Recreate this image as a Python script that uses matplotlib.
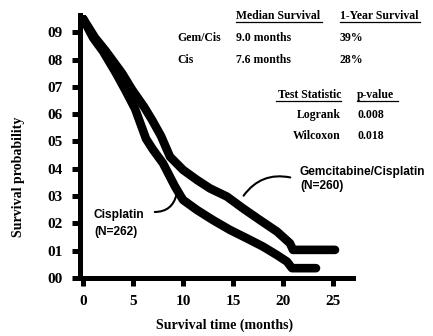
import numpy as np
import matplotlib
matplotlib.use("Agg")
import matplotlib.pyplot as plt

# survival curves (months, probability)
cis_t = [0, 1.0, 2.0, 3.3, 4.2, 5.2, 6.3, 7.0, 8.0, 9.2, 10.0, 11.4, 13.0,
         14.7, 16.4, 18.0, 19.4, 20.4, 20.9, 23.3]
cis_s = [0.95, 0.88, 0.83, 0.75, 0.69, 0.62, 0.51, 0.47, 0.42, 0.335, 0.286,
         0.249, 0.212, 0.176, 0.145, 0.115, 0.084, 0.06, 0.036, 0.036]

gem_t = [0, 1.2, 2.3, 3.9, 4.9, 6.1, 6.9, 7.8, 8.7, 10.0, 11.4, 12.7, 14.4,
         16.0, 17.7, 19.4, 20.7, 21.0, 25.2]
gem_s = [0.95, 0.88, 0.83, 0.75, 0.69, 0.627, 0.579, 0.52, 0.444, 0.396, 0.359,
         0.328, 0.298, 0.255, 0.212, 0.17, 0.127, 0.103, 0.103]

xticks = [0, 5, 10, 15, 20, 25]
yticks = [0, 0.1, 0.2, 0.3, 0.4, 0.5, 0.6, 0.7, 0.8, 0.9]
ytick_labels = ["00", "01", "02", "03", "04", "05", "06", "07", "08", "09"]

groups = ["Gem/Cis", "Cis"]
median_surv = ["9.0 months", "7.6 months"]
one_year = ["39%", "28%"]
tests = ["Logrank", "Wilcoxon"]
pvals = ["0.008", "0.018"]

W, H = 433, 336
fig = plt.figure(figsize=(W / 100, H / 100), dpi=100)
ax = fig.add_axes([80 / W, 1 - 278 / H, 273 / W, 263 / H])

serif = "Liberation Serif"
sans = "Liberation Sans"

ax.plot(cis_t, cis_s, color="black", lw=6.2, solid_capstyle="round",
        solid_joinstyle="round")
ax.plot(gem_t, gem_s, color="black", lw=6.2, solid_capstyle="round",
        solid_joinstyle="round")

ax.set_xlim(-0.3, 27.0)
ax.set_ylim(0, 0.963)
ax.set_xticks(xticks)
ax.set_xticklabels([str(x) for x in xticks])
ax.set_yticks(yticks)
ax.set_yticklabels(ytick_labels)
ax.tick_params(direction="out", length=6, width=3.6, pad=6.5)
for lab in ax.get_xticklabels() + ax.get_yticklabels():
    lab.set_fontfamily(serif)
    lab.set_fontweight("bold")
    lab.set_fontsize(11)

for s in ["top", "right"]:
    ax.spines[s].set_visible(False)
for s in ["left", "bottom"]:
    ax.spines[s].set_linewidth(3.6)

ax.set_xlabel("Survival time (months)", family=serif, weight="bold",
              fontsize=10, va="center")
ax.xaxis.set_label_coords((225 - 80) / 273, (278 - 325) / 263)
ax.set_ylabel("Survival probability", family=serif, weight="bold",
              fontsize=10, va="center")
ax.yaxis.set_label_coords((19 - 80) / 273, (278 - 177) / 263)


def px(x, y):
    # pixel position -> data coords
    return (x - 83) / 10, (278 - y) / 273


# labels on curves
lab_kw = dict(family=sans, weight="bold", fontsize=8.6, va="center",
              ha="left", clip_on=False)
ax.text(*px(94, 215), "Cisplatin", **lab_kw)
ax.text(*px(94, 232), "(N=262)", **lab_kw)
ax.annotate("", xy=(9.4, 0.315), xytext=(6.9, 0.242),
            arrowprops=dict(arrowstyle="-", lw=1.5, color="black",
                            connectionstyle="arc3,rad=0.45"))
ax.text(*px(300, 172), "Gemcitabine/Cisplatin", **lab_kw)
ax.text(*px(300, 186), "(N=260)", **lab_kw)
ax.annotate("", xy=(15.9, 0.293), xytext=(21.0, 0.366),
            arrowprops=dict(arrowstyle="-", lw=1.5, color="black",
                            connectionstyle="arc3,rad=0.35"))


def ftxt(x, y, s, **kw):
    fig.text(x / W, 1 - y / H, s, family=serif, weight="bold", fontsize=8.5,
             va="center", **kw)


# summary table
ftxt(236, 16, "Median Survival", ha="left")
ftxt(340, 16, "1-Year Survival", ha="left")
for i, g in enumerate(groups):
    y = 38 + 22 * i
    ftxt(177, y, g, ha="left")
    ftxt(236, y, median_surv[i], ha="left")
    ftxt(340, y, one_year[i], ha="left")
ftxt(341, 95, "Test Statistic", ha="right")
ftxt(357, 95, "p-value", ha="left")
for i, t in enumerate(tests):
    y = 115 + 21 * i
    ftxt(341, y, t, ha="right")
    ftxt(357, y, pvals[i], ha="left")

# underlines for headers
for x0, x1, yy in [(236, 322, 22), (340, 420, 22), (276, 341, 101),
                   (357, 398, 101)]:
    fig.add_artist(plt.Line2D([x0 / W, x1 / W], [1 - yy / H, 1 - yy / H],
                              color="black", lw=0.9))

fig.savefig("out.png", dpi=100)
